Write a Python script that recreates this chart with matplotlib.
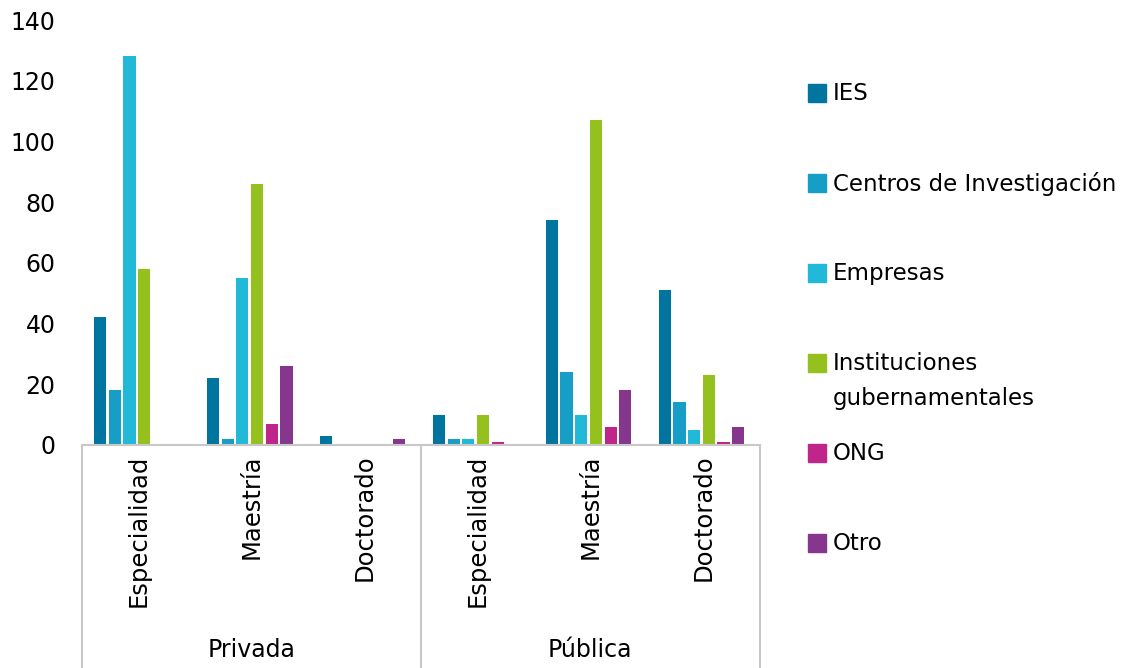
import os
import numpy as np
import matplotlib
matplotlib.use('Agg')
import matplotlib.pyplot as plt
from matplotlib.patches import Rectangle
from matplotlib.lines import Line2D
from matplotlib.font_manager import FontProperties

ttf = os.path.join(matplotlib.get_data_path(), 'fonts', 'ttf', 'DejaVuSans.ttf')


def fuente(tam):
    return FontProperties(fname=ttf, size=tam)


sectores = ['Privada', 'Pública']
niveles = ['Especialidad', 'Maestría', 'Doctorado']
series = ['IES', 'Centros de Investigación', 'Empresas',
          'Instituciones\ngubernamentales', 'ONG', 'Otro']
colores = ['#0075a0', '#169ec6', '#22b8d8', '#95c11f', '#c0268a', '#86368c']

# orden: Privada (Esp, Maes, Doc), Pública (Esp, Maes, Doc)
ies = [42, 22, 3, 10, 74, 51]
centros = [18, 2, 0, 2, 24, 14]
empresas = [128, 55, 0, 2, 10, 5]
gubernamentales = [58, 86, 0, 10, 107, 23]
ong = [0, 7, 0, 1, 6, 1]
otro = [0, 26, 2, 0, 18, 6]
valores = [ies, centros, empresas, gubernamentales, ong, otro]

fig = plt.figure(figsize=(11.39, 6.68), dpi=100)
ax = fig.add_axes([0.072, 0.334, 0.595, 0.636])

x = np.arange(len(sectores) * len(niveles))
paso = 0.13
for i, (vals, col) in enumerate(zip(valores, colores)):
    ax.bar(x + (i - 2.5) * paso - 0.015, vals, width=0.108, color=col,
           linewidth=0)

ax.set_xlim(-0.5, 5.5)
ax.set_ylim(0, 140)
ax.set_yticks(range(0, 141, 20))
ax.tick_params(axis='y', length=0, pad=19)
for lbl in ax.get_yticklabels():
    lbl.set_fontproperties(fuente(17))
ax.set_xticks(x)
ax.set_xticklabels(niveles * 2, rotation=90, va='top')
for lbl in ax.get_xticklabels():
    lbl.set_fontproperties(fuente(17.5))
ax.tick_params(axis='x', length=0, pad=7)

for s in ['top', 'right', 'left']:
    ax.spines[s].set_visible(False)
ax.spines['bottom'].set_color('#c8c8c8')
ax.spines['bottom'].set_linewidth(1.5)

# separadores del eje de categorias
tr = ax.get_xaxis_transform()
for xs in [-0.5, 2.5, 5.5]:
    ax.add_line(Line2D([xs, xs], [0, -0.53], transform=tr, color='#c8c8c8',
                       lw=1.5, clip_on=False))
for j, s in enumerate(sectores):
    ax.text(j * 3 + 1, -0.482, s, transform=tr, ha='center', va='center',
            fontproperties=fuente(17))

# leyenda
y0 = 1 - 93 / 668
dy = 90 / 668
for i, (nom, col) in enumerate(zip(series, colores)):
    yc = y0 - i * dy
    fig.patches.append(Rectangle((808 / 1139, yc - 9 / 668), 18 / 1139, 18 / 668,
                                 transform=fig.transFigure, color=col))
    fig.text(833 / 1139, yc + 11 / 668, nom, va='top', ha='left',
             fontproperties=fuente(16.5), linespacing=1.65)

fig.savefig('out.png', dpi=100)
